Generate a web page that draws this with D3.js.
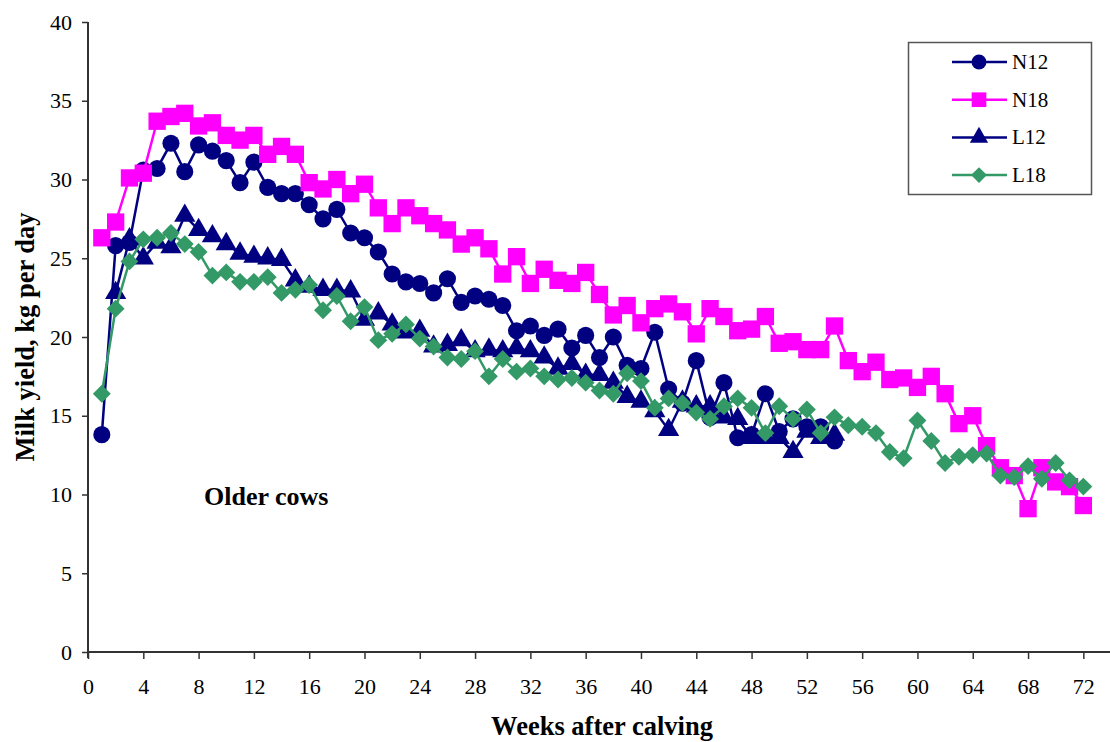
<!DOCTYPE html>
<html><head><meta charset="utf-8">
<script src="https://cdn.jsdelivr.net/npm/d3@7"></script>
<style>body{margin:0;background:#fff}svg{display:block}</style>
</head><body><svg id="c" width="1110" height="742"></svg>
<script>
const N12 = [13.8,25.8,26.0,30.6,30.7,32.3,30.5,32.2,31.8,31.2,29.8,31.1,29.5,29.1,29.1,28.4,27.5,28.1,26.6,26.3,25.4,24.0,23.5,23.4,22.8,23.7,22.2,22.6,22.4,22.0,20.4,20.7,20.1,20.5,19.3,20.1,18.7,20.0,18.2,18.0,20.3,16.7,15.8,18.5,14.9,17.1,13.6,13.8,16.4,14.0,14.8,14.3,14.3,13.4];
const N18 = [26.3,27.3,30.1,30.4,33.7,34.0,34.2,33.4,33.6,32.8,32.5,32.8,31.6,32.1,31.6,29.8,29.4,30.0,29.1,29.7,28.2,27.2,28.2,27.7,27.2,26.8,25.9,26.3,25.6,24.0,25.1,23.4,24.3,23.6,23.4,24.1,22.7,21.4,22.0,20.9,21.8,22.1,21.6,20.2,21.8,21.3,20.4,20.5,21.3,19.6,19.7,19.2,19.2,20.7,18.5,17.8,18.4,17.3,17.4,16.8,17.5,16.4,14.5,15.0,13.1,11.7,11.2,9.1,11.7,10.8,10.5,9.3];
const L12 = [null,22.8,26.2,25.0,26.0,25.7,27.7,26.8,26.4,25.9,25.3,25.1,25.0,24.9,23.6,23.2,23.0,23.0,22.9,21.1,21.5,20.8,20.3,20.4,19.4,19.5,19.8,19.1,19.2,19.1,19.3,19.1,18.7,18.0,18.3,17.6,17.6,17.1,16.2,15.9,15.3,14.1,15.9,15.6,15.6,14.9,14.8,13.6,13.6,13.6,12.7,14.0,13.6,13.8];
const L18 = [16.4,21.8,24.8,26.2,26.3,26.6,25.9,25.4,23.9,24.1,23.5,23.5,23.8,22.8,23.0,23.3,21.7,22.6,21.0,21.9,19.8,20.2,20.8,19.9,19.4,18.7,18.6,19.1,17.5,18.6,17.8,18.0,17.5,17.3,17.4,17.1,16.6,16.4,17.7,17.2,15.5,16.1,15.8,15.2,14.8,15.6,16.1,15.5,13.9,15.6,14.8,15.4,13.9,14.9,14.4,14.3,13.9,12.7,12.3,14.7,13.4,12.0,12.4,12.5,12.6,11.2,11.1,11.8,11.0,12.0,10.9,10.5];
const seriesNames = ["N12","N18","L12","L18"];
const xTicks = d3.range(0, 73, 4);
const yTicks = d3.range(0, 41, 5);

const FONT = "'Liberation Serif', 'Times New Roman', serif";
const svg = d3.select("#c");
const x = d3.scaleLinear().domain([0, 74]).range([88, 1111]);
const y = d3.scaleLinear().domain([0, 40]).range([652, 22]);

const styles = {
  N12: {color: "#000080", sym: d3.symbolCircle, size: 230, lsize: 175, rot: 0},
  N18: {color: "#FF00FF", sym: d3.symbolSquare, size: 300, lsize: 215, rot: 0},
  L12: {color: "#000080", sym: d3.symbolTriangle, size: 195, lsize: 145, rot: 0},
  L18: {color: "#339966", sym: d3.symbolSquare, size: 160, lsize: 125, rot: 45}
};
const data = {N12, N18, L12, L18};

// axes
const xAxis = d3.axisBottom(x).tickValues(xTicks).tickSize(7).tickSizeOuter(0).tickPadding(19);
const gx = svg.append("g").attr("transform", "translate(0,652)").call(xAxis);
gx.select(".domain").attr("stroke", "#333").attr("stroke-width", 2).attr("d", "M88,0H1110");
gx.selectAll(".tick line").attr("stroke", "#333").attr("stroke-width", 1.5);
gx.selectAll("text").attr("font-size", 22).attr("fill", "#000").attr("font-family", FONT);

const yAxis = d3.axisLeft(y).tickValues(yTicks).tickSize(6).tickSizeOuter(0).tickPadding(10);
const gy = svg.append("g").attr("transform", "translate(88,0)").call(yAxis);
gy.select(".domain").attr("stroke", "#333").attr("stroke-width", 2).attr("d", "M0,22V658");
gy.selectAll(".tick line").attr("stroke", "#333").attr("stroke-width", 1.5);
gy.selectAll("text").attr("font-size", 22).attr("fill", "#000").attr("font-family", FONT);

// titles
svg.append("text").attr("x", 602).attr("y", 735).attr("text-anchor", "middle").attr("font-family", FONT)
  .attr("font-size", 26.5).attr("font-weight", "bold").text("Weeks after calving");
svg.append("text").attr("transform", "translate(34,337) rotate(-90)").attr("text-anchor", "middle").attr("font-family", FONT)
  .attr("font-size", 26.5).attr("font-weight", "bold").text("Milk yield, kg per day");
svg.append("text").attr("x", 204).attr("y", 505).attr("font-family", FONT)
  .attr("font-size", 26).attr("font-weight", "bold").text("Older cows");

// series
const line = d3.line().defined(d => d != null).x((d, i) => x(i + 1)).y(d => y(d));
seriesNames.forEach(name => {
  const s = styles[name];
  const g = svg.append("g");
  g.append("path").datum(data[name]).attr("d", line).attr("fill", "none")
    .attr("stroke", s.color).attr("stroke-width", 2.5);
  const pts = data[name].map((v, i) => ({w: i + 1, v})).filter(d => d.v != null);
  g.selectAll("path.m").data(pts).enter().append("path").attr("class", "m")
    .attr("d", d3.symbol().type(s.sym).size(s.size))
    .attr("transform", d => `translate(${x(d.w)},${y(d.v)}) rotate(${s.rot})`)
    .attr("fill", s.color);
});

// legend
const lg = svg.append("g");
lg.append("rect").attr("x", 908.5).attr("y", 42.5).attr("width", 183).attr("height", 152)
  .attr("fill", "#fff").attr("stroke", "#555").attr("stroke-width", 1.5);
seriesNames.forEach((name, i) => {
  const s = styles[name];
  const cy = 62 + i * 37.7;
  lg.append("line").attr("x1", 952).attr("x2", 1007).attr("y1", cy).attr("y2", cy)
    .attr("stroke", s.color).attr("stroke-width", 2.5);
  lg.append("path").attr("d", d3.symbol().type(s.sym).size(s.lsize)())
    .attr("transform", `translate(979,${cy}) rotate(${s.rot})`).attr("fill", s.color);
  lg.append("text").attr("x", 1012).attr("y", cy + 7).attr("font-size", 21).attr("font-family", FONT).text(name);
});
</script></body></html>
